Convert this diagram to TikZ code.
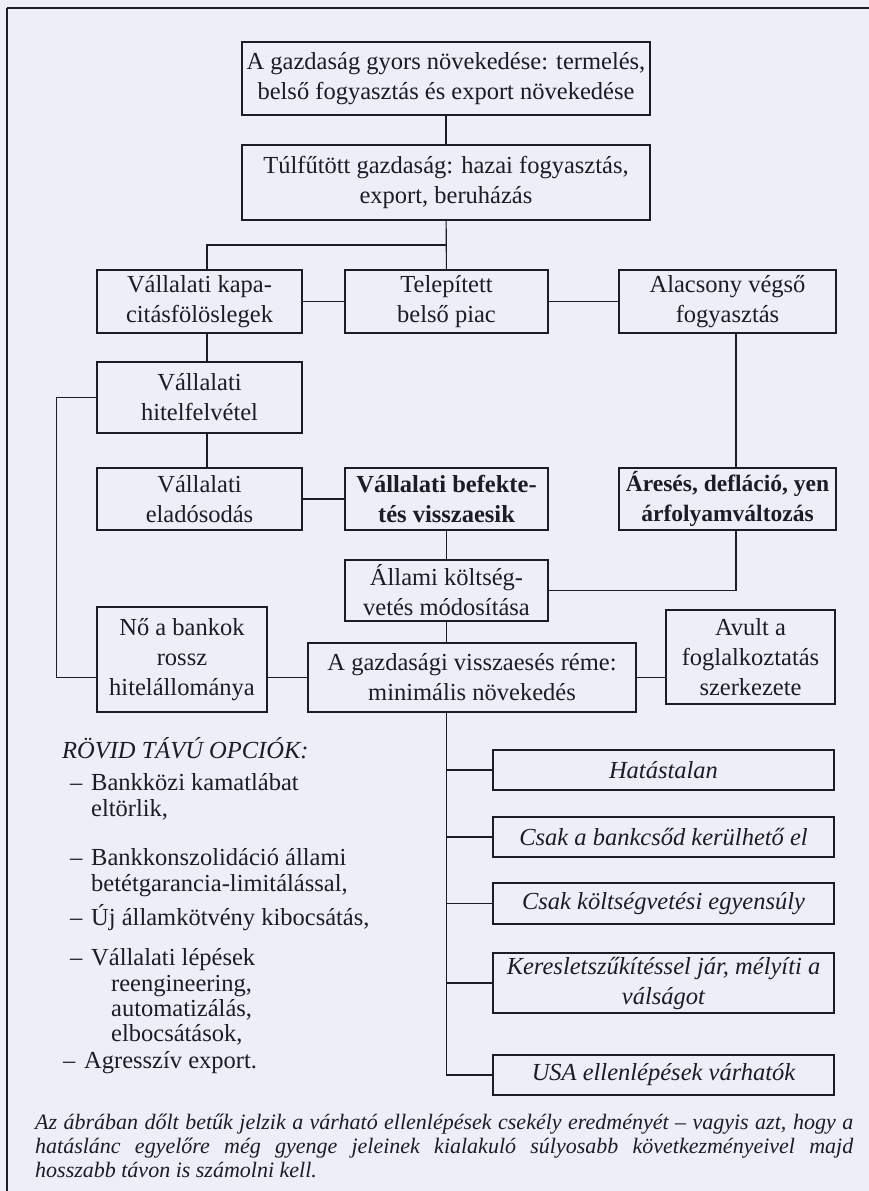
\documentclass[tikz,border=0pt]{standalone}
\usepackage{fontspec}
\setmainfont{Liberation Serif}
\usepackage{xcolor}
\definecolor{paper}{RGB}{236,238,248}
\definecolor{ink}{RGB}{28,28,34}
\tikzstyle{box}=[
    rectangle,
    draw=ink,
    line width=1.3pt,
    align=center,
    inner sep=0pt,
    text=ink,
    font=\fontsize{24.5}{30}\selectfont]
\tikzstyle{result}=[box, font=\fontsize{24.5}{30}\selectfont\itshape]
\tikzstyle{link}=[draw=ink, line width=1.1pt]
\tikzstyle{opt}=[anchor=base west, inner sep=0pt, text=ink, font=\fontsize{24.5}{30}\selectfont]

\begin{document}
\begin{tikzpicture}[x=1pt,y=1pt,yscale=-1,xscale=1]
%page and frame
\fill[paper] (0,0) rectangle (869,1191);
\useasboundingbox (0,0) rectangle (869,1191);
\draw[ink, line width=2.6pt] (7,8) -- (869,8);
\draw[ink, line width=1.4pt] (7,8) -- (7,1191);

%Shape: Rectangle [upper chain]
\node[box, minimum width=408pt, minimum height=73pt] (growth) at (446,78.5) {A gazdaság gyors növekedése: termelés,\\belső fogyasztás és export növekedése};
\node[box, minimum width=408pt, minimum height=75pt] (overheat) at (446,182.5) {Túlfűtött gazdaság: hazai fogyasztás,\\export, beruházás};
%Shape: Rectangle [third row]
\node[box, minimum width=205pt, minimum height=63pt] (surplus) at (199.5,301.5) {Vállalati kapa-\\citásfölöslegek};
\node[box, minimum width=203pt, minimum height=63pt] (market) at (446.5,301.5) {Telepített\\belső piac};
\node[box, minimum width=217pt, minimum height=63pt] (lowcons) at (727.5,301.5) {Alacsony végső\\fogyasztás};
%Shape: Rectangle [left column]
\node[box, minimum width=205pt, minimum height=71pt] (borrow) at (199.5,397.5) {Vállalati\\hitelfelvétel};
\node[box, minimum width=205pt, minimum height=62pt] (debt) at (199.5,499) {Vállalati\\eladósodás};
\node[box, minimum width=203pt, minimum height=62pt, font=\fontsize{24.5}{30}\selectfont\bfseries] (invest) at (446.5,499) {Vállalati befekte-\\tés visszaesik};
\node[box, minimum width=217pt, minimum height=62pt, font=\fontsize{23.5}{30}\selectfont\bfseries] (deflation) at (727.5,499) {Áresés, defláció, yen\\árfolyamváltozás};
\node[box, minimum width=203pt, minimum height=61pt] (budget) at (446.5,590.5) {Állami költség-\\vetés módosítása};
\node[box, minimum width=170pt, minimum height=105pt] (badloans) at (182,659.5) {Nő a bankok\\rossz\\hitelállománya};
\node[box, minimum width=328pt, minimum height=69pt] (recession) at (472,677.5) {A gazdasági visszaesés réme:\\minimális növekedés};
\node[box, minimum width=169pt, minimum height=94pt] (jobs) at (750.5,657) {Avult a\\foglalkoztatás\\szerkezete};
%Shape: Rectangle [italic results]
\node[result, minimum width=341pt, minimum height=40pt] (noeffect) at (663.5,770) {Hatástalan};
\node[result, minimum width=341pt, minimum height=40pt] (bankrupt) at (663.5,837) {Csak a bankcsőd kerülhető el};
\node[result, minimum width=341pt, minimum height=41pt] (balance) at (663.5,903.5) {Csak költségvetési egyensúly};
\node[result, minimum width=341pt, minimum height=60pt] (demand) at (663.5,983) {Keresletszűkítéssel jár, mélyíti a\\válságot};
\node[result, minimum width=341pt, minimum height=40pt] (usa) at (663.5,1075) {USA ellenlépések várhatók};

%Straight Lines
\draw[link] (growth) -- (overheat);
\draw[link] (overheat) -- (market);
\coordinate (split) at (overheat.south |- 0,245);
\draw[link] (split) -| ([xshift=7.5pt]surplus.north);
\draw[link] (surplus) -- (market);
\draw[link] (market) -- (lowcons);
\draw[link] ([xshift=7.5pt]surplus.south) -- ([xshift=7.5pt]borrow.north);
\draw[link] ([xshift=7.5pt]borrow.south) -- ([xshift=7.5pt]debt.north);
\draw[link] (borrow.west) -- ++(-40,0) |- (badloans.west |- recession.west);
\draw[link] (debt) -- (invest);
\draw[link] ([xshift=8.5pt]lowcons.south) -- ([xshift=8.5pt]deflation.north);
\draw[link] (invest) -- (budget);
\draw[link] ([xshift=8.5pt]deflation.south) |- (budget.east);
\draw[link] (budget.south) -- (budget.south |- recession.north);
\draw[link] (badloans.east |- recession.west) -- (recession.west);
\draw[link] (recession.east) -- (recession.east -| jobs.west);
\draw[link] (budget.south |- recession.south) |- (usa.west);
\foreach \n in {noeffect,bankrupt,balance,demand}
  \draw[link] (budget.south |- \n.west) -- (\n.west);

% Text Node
\node[opt, font=\fontsize{24.5}{30}\selectfont\itshape] (shortterm) at (62,758) {RÖVID TÁVÚ OPCIÓK:};
\foreach \x/\y [count=\i] in {70/790,70/865,70/925,70/965,63/1068}
  \node[opt] (dash\i) at (\x,\y) {–};
\foreach \x/\y/\t [count=\i] in {91/790/{Bankközi kamatlábat},91/816/{eltörlik,},91/865/{Bankkonszolidáció állami},91/891/{betétgarancia-limitálással,},91/925/{Új államkötvény kibocsátás,},91/965/{Vállalati lépések},111/991/{reengineering,},111/1016/{automatizálás,},111/1041/{elbocsátások,},84/1068/{Agresszív export.}}
  \node[opt] (option\i) at (\x,\y) {\t};
% Text Node
\node[anchor=north west, inner sep=0pt, text=ink, text width=818pt, align=justify, font=\fontsize{22}{24}\selectfont\itshape] (note) at (35,1114) {Az ábrában dőlt betűk jelzik a várható ellenlépések csekély eredményét – vagyis azt, hogy a\linebreak hatáslánc egyelőre még gyenge jeleinek kialakuló súlyosabb következményeivel majd\linebreak hosszabb távon is számolni kell.};

\end{tikzpicture}
\end{document}
